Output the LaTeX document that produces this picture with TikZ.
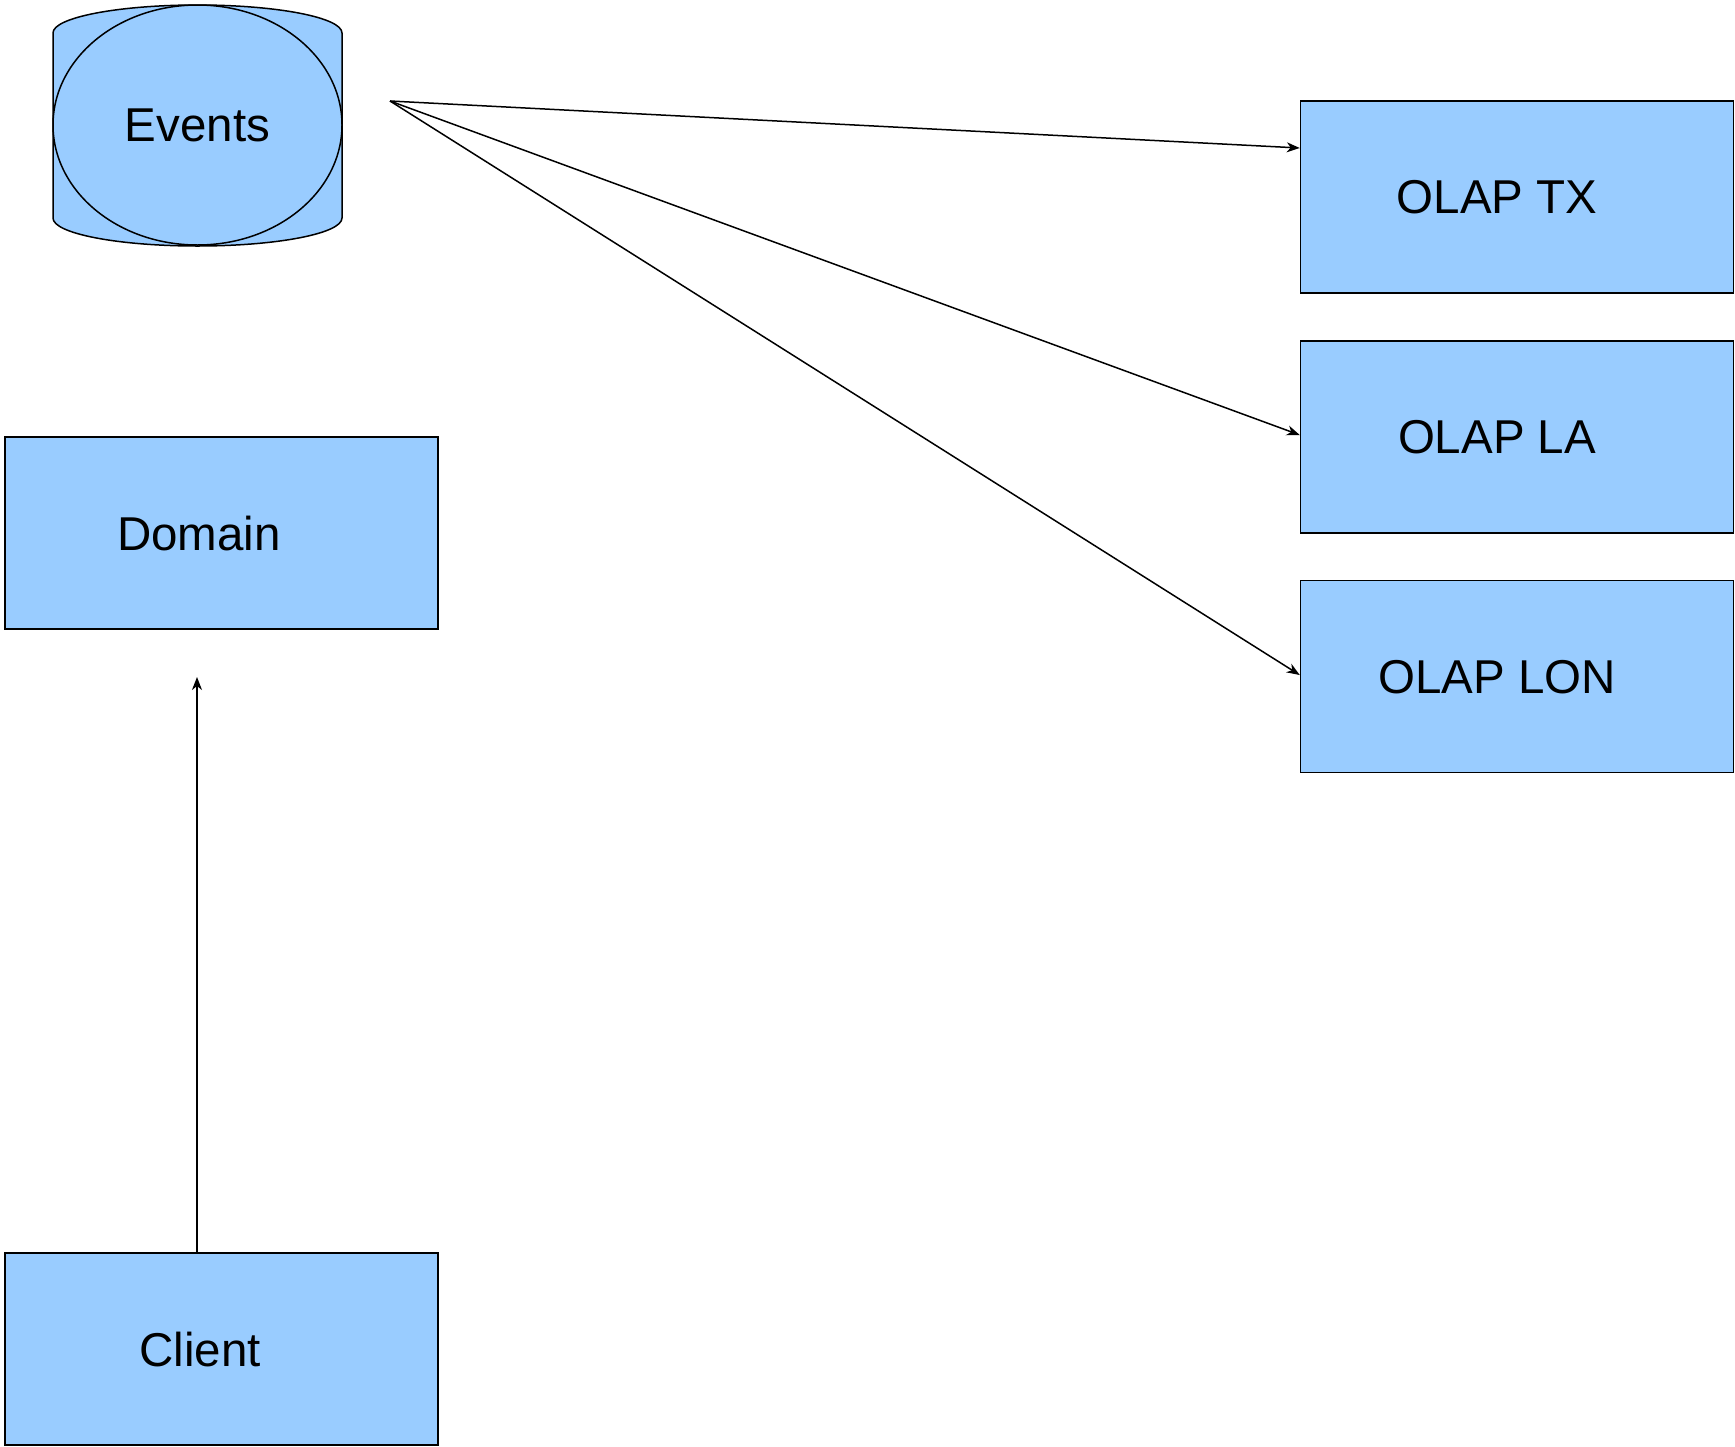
\documentclass[tikz,border=0pt]{standalone}
\usepackage{fontspec}
\setmainfont{Liberation Sans}
\usetikzlibrary{arrows.meta,shapes.geometric}
\definecolor{boxblue}{HTML}{99CCFF}
\tikzset{
  box/.style={draw=black, fill=boxblue, line width=1.5pt, minimum width=433pt, minimum height=192pt, inner sep=0pt},
  lbl/.style={font=\fontsize{47.5}{56}\selectfont, inner sep=0pt, text depth=0pt},
  conn/.style={line width=1.5pt, -{Stealth[length=13pt, width=10pt, inset=4pt]}}
}
\begin{document}
\begin{tikzpicture}[x=1pt, y=-1pt]
\useasboundingbox (0,0) rectangle (1735,1446);

% events store: cylinder outline with inscribed ellipse
\path[draw=black, fill=boxblue, line width=1.5pt]
  (53,33) arc[start angle=180, end angle=360, x radius=144.5, y radius=28]
  -- (342,218) arc[start angle=0, end angle=180, x radius=144.5, y radius=28]
  -- cycle;
\node[draw=black, fill=boxblue, line width=1.5pt, ellipse, minimum width=289pt, minimum height=240pt, inner sep=0pt] (events) at (197.5,125) {};
\node[lbl] (eventslbl) at (197.5,125) {Events};

% boxes
\node[box] (domain) at (221.5,533) {};
\node[lbl] (domainlbl) at (199,533) {Domain};
\node[box] (client) at (221.5,1349) {};
\node[lbl] (clientlbl) at (200,1349) {Client};
\node[box] (tx)  at (1517,197) {};
\node[lbl] (txlbl)  at (1497,197) {OLAP TX};
\node[box] (la)  at (1517,437) {};
\node[lbl] (lalbl)  at (1497,437) {OLAP LA};
\node[box] (lon) at (1517,676.5) {};
\node[lbl] (lonlbl) at (1497,676.5) {OLAP LON};

% connectors
\coordinate (src) at (390,101);
\coordinate (dtip) at (197,677);
\draw[conn] (src) -- ([yshift=49pt]tx.west);
\draw[conn] (src) -- ([yshift=2pt]la.west);
\draw[conn] (src) -- ([yshift=1.5pt]lon.west);
\draw[conn] (client.north -| dtip) -- (dtip);
\end{tikzpicture}
\end{document}
